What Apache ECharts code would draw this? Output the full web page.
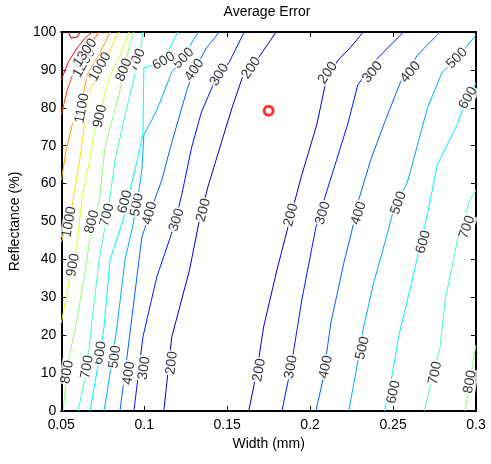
<!DOCTYPE html>
<html><head><meta charset="utf-8">
<script src="https://cdn.jsdelivr.net/npm/echarts@6/dist/echarts.min.js"></script>
<style>html,body{margin:0;padding:0;background:#fff}#c{width:491px;height:464px}</style>
</head><body><div id="c"></div>
<script>
// ---- data (x = width in mm, y = reflectance in %) ----
const c200a = [[0.1118,0],[0.1166,19.5],[0.1273,37.2],[0.1333,50.4],[0.1387,59.6],[0.1525,79.4],[0.1597,88.7],[0.1687,93.1],[0.1795,100]];
const c200b = [[0.163,0],[0.168,10.8],[0.172,22.2],[0.180,37.2],[0.189,52.5],[0.195,62.3],[0.204,75.5],[0.210,87.9],[0.217,92.6],[0.2245,96.0],[0.232,100]];
const c300a = [[0.0938,0],[0.0992,19.5],[0.1076,35.4],[0.1178,48.5],[0.1226,57.0],[0.1285,69.4],[0.1345,78.9],[0.1423,86.8],[0.1513,92.1],[0.1603,100]];
const c300b = [[0.183,0],[0.1885,11.6],[0.195,29.3],[0.2035,48.5],[0.2095,57.2],[0.2227,75.7],[0.2287,86.0],[0.2407,93.1],[0.2545,99.2],[0.2563,100]];
const c400a = [[0.0854,0],[0.0896,14.25],[0.0986,45.9],[0.1034,52.2],[0.1106,60.9],[0.1154,68.9],[0.1214,78.1],[0.1261,85.2],[0.1303,90.0],[0.1375,95.8],[0.1453,100]];
const c400b = [[0.2035,0],[0.2077,8.2],[0.2125,23.2],[0.2203,39.0],[0.2257,48.5],[0.2293,55.7],[0.2365,66.2],[0.2455,76.8],[0.2545,86.8],[0.2647,93.9],[0.2784,100]];
const c500a = [[0.0758,0],[0.0776,4.75],[0.0836,22.2],[0.0884,39.8],[0.0926,47.8],[0.0956,54.4],[0.0986,63.6],[0.0998,72.8],[0.1076,79.4],[0.1166,89.4],[0.1237,93.1],[0.1303,98.4],[0.1327,100]];
const c500b = [[0.2233,0],[0.2275,10.0],[0.2323,22.2],[0.2383,33.8],[0.2455,45.1],[0.2503,53.0],[0.2587,60.4],[0.2707,79.9],[0.2796,89.4],[0.2886,93.1],[0.3,99.2]];
const c600a = [[0.0674,0],[0.0734,15.3],[0.0758,22.2],[0.0794,39.8],[0.0878,51.2],[0.0896,55.2],[0.0944,63.6],[0.0992,72.8],[0.0998,90.5],[0.1058,91.3],[0.1118,92.3],[0.1183,98.4],[0.1202,100]];
const c600b = [[0.2449,0],[0.2497,10.0],[0.2533,19.5],[0.2605,32.7],[0.2695,49.6],[0.2725,55.7],[0.2766,64.9],[0.2886,75.5],[0.2922,79.9],[0.3,86.5]];
const c700a = [[0.0602,0],[0.0656,11.6],[0.0686,24.0],[0.0728,39.8],[0.0776,51.7],[0.0794,56.5],[0.0824,66.2],[0.0878,76.8],[0.0914,83.4],[0.0944,88.7],[0.0968,93.1],[0.0986,97.9],[0.0992,100]];
const c700b = [[0.2688,0],[0.2784,16.9],[0.2814,29.3],[0.2892,45.9],[0.2964,55.7],[0.3,58.3]];
const c800a = [[0.0512,0],[0.0536,11.6],[0.0596,24.5],[0.0650,38.5],[0.0686,49.6],[0.0728,54.9],[0.0764,69.7],[0.0794,74.7],[0.0848,83.4],[0.0878,89.7],[0.0908,95.8],[0.0938,100]];
const c800b = [[0.2934,0],[0.2994,16.1],[0.3,17.4]];
const c900a = [[0.05,23.2],[0.0554,35.4],[0.0596,44.3],[0.0626,56.5],[0.0668,65.4],[0.0698,73.4],[0.0734,78.1],[0.0758,82.6],[0.0788,87.9],[0.0848,93.1],[0.0908,100]];
const c1000a = [[0.05,44.6],[0.0548,49.9],[0.0566,54.4],[0.0614,67.0],[0.0644,76.8],[0.0674,84.7],[0.0734,90.0],[0.0794,95.3],[0.0848,100]];
const c1100a = [[0.05,60.9],[0.053,68.9],[0.0566,75.5],[0.0602,78.9],[0.0626,82.1],[0.0656,88.7],[0.0716,93.1],[0.0776,98.2],[0.0794,100]];
const c1200a = [[0.05,78.1],[0.0536,84.7],[0.0578,90.0],[0.0626,93.1],[0.0686,97.4],[0.0728,100]];
const c1300a = [[0.05,87.3],[0.0542,92.1],[0.0596,95.8],[0.0644,98.4],[0.0686,100]];
const c1400a = [[0.0542,100],[0.056,98.4],[0.0596,98.7],[0.0614,100]];

// contour level for each line
const contourLines = [
  [200, c200a], [200, c200b], [300, c300a], [300, c300b], [400, c400a], [400, c400b],
  [500, c500a], [500, c500b], [600, c600a], [600, c600b], [700, c700a], [700, c700b],
  [800, c800a], [800, c800b], [900, c900a], [1000, c1000a], [1100, c1100a],
  [1200, c1200a], [1300, c1300a], [1400, c1400a]
];

// contour labels: [x, y, level, angle]
const contourLabels = [
  [0.1693,10.8,200,80],[0.1885,51.7,200,75],[0.2107,89.2,200,55],
  [0.1885,11.6,300,80],[0.2077,52.2,300,73],[0.2377,89.4,300,50],
  [0.2095,11.6,400,78],[0.2293,52.2,400,72],[0.2605,89.4,400,50],
  [0.2317,16.6,500,77],[0.2533,54.9,500,70],[0.2886,93.1,500,45],
  [0.2503,5.0,600,78],[0.2683,44.6,600,75],[0.2952,82.6,600,60],
  [0.2754,10.0,700,78],[0.2946,48.5,700,70],
  [0.2964,7.7,800,80],
  [0.1166,12.7,200,83],[0.1357,53.0,200,75],[0.1645,90.5,200,55],
  [0.1,11.3,300,82],[0.1196,50.4,300,72],[0.1453,88.7,300,58],
  [0.0908,10.0,400,82],[0.1034,52.2,400,75],[0.1303,90.0,400,55],
  [0.0824,14.25,500,82],[0.0956,54.4,500,80],[0.1237,93.1,500,45],
  [0.0734,15.3,600,80],[0.0884,55.2,600,75],[0.1118,92.3,600,30],
  [0.0656,11.6,700,80],[0.0776,51.7,700,75],[0.0956,92.6,700,65],
  [0.0536,10.3,800,80],[0.0686,49.9,800,75],[0.0878,90.0,800,68],
  [0.0572,38.5,900,80],[0.0734,77.8,900,78],
  [0.0548,49.9,1000,80],[0.0734,90.8,1000,60],
  [0.0626,79.9,1100,80],[0.0638,91.8,1200,60],[0.0644,94.5,1300,55]
];

const markerPoint = [[0.175, 79.2]];

// ---- styling helpers ----
function jet(level) {
  const t = 0.075 + (level - 200) / 1200 * 0.875;
  const cl = v => Math.max(0, Math.min(1, v));
  const r = cl(1.5 - Math.abs(4 * t - 3));
  const g = cl(1.5 - Math.abs(4 * t - 2));
  const b = cl(1.5 - Math.abs(4 * t - 1));
  const h = v => Math.round(v * 255).toString(16).padStart(2, '0');
  return '#' + h(r) + h(g) + h(b);
}
const FONT = 'Liberation Sans, Arial, Helvetica, sans-serif';

const series = contourLines.map(([lvl, pts]) => ({
  type: 'line', data: pts, showSymbol: false, symbol: 'none', silent: true,
  lineStyle: { color: jet(lvl), width: 1 }, z: 2, clip: true, animation: false
}));
series.push({
  type: 'scatter', silent: true, z: 5, symbolSize: 0, animation: false,
  data: contourLabels.map(([x, y, lvl, ang]) => ({
    value: [x, y],
    label: { rotate: ang }
  })),
  label: {
    show: true, position: 'inside', color: '#000', fontSize: 14, fontFamily: FONT,
    backgroundColor: '#fff', padding: [0, 1],
    formatter: p => String(contourLabels[p.dataIndex][2])
  }
});
series.push({
  type: 'scatter', data: markerPoint, symbol: 'circle', symbolSize: 9, silent: true, z: 6,
  itemStyle: { color: '#fff', borderColor: '#ff0000', borderWidth: 3 }, animation: false
});

const axisCommon = {
  axisLine: { show: true, onZero: false, lineStyle: { color: '#000', width: 2 } },
  axisTick: { show: true, inside: true, length: 5, lineStyle: { color: '#000', width: 1 } },
  splitLine: { show: false }
};

const chart = echarts.init(document.getElementById('c'), null, { renderer: 'canvas' });
chart.setOption({
  animation: false,
  backgroundColor: '#fff',
  grid: { left: 59, right: 15, top: 32, bottom: 53 },
  graphic: [{
    type: 'text', x: 267, y: 12,
    style: { text: 'Average Error', align: 'center', verticalAlign: 'middle', fill: '#000', font: '14px ' + FONT }
  }],
  xAxis: [
    Object.assign({}, axisCommon, {
      type: 'value', min: 0.05, max: 0.3, interval: 0.05, position: 'bottom',
      name: 'Width (mm)', nameLocation: 'middle', nameGap: 25,
      nameTextStyle: { color: '#000', fontSize: 14, fontFamily: FONT },
      axisLabel: { color: '#000', fontSize: 14, fontFamily: FONT, margin: 7 }
    }),
    Object.assign({}, axisCommon, {
      type: 'value', min: 0.05, max: 0.3, interval: 0.05, position: 'top',
      axisLabel: { show: false }
    })
  ],
  yAxis: [
    Object.assign({}, axisCommon, {
      type: 'value', min: 0, max: 100, interval: 10, position: 'left',
      name: 'Reflectance (%)', nameLocation: 'middle', nameGap: 37,
      nameTextStyle: { color: '#000', fontSize: 14, fontFamily: FONT },
      axisLabel: { color: '#000', fontSize: 14, fontFamily: FONT, margin: 5 }
    }),
    Object.assign({}, axisCommon, {
      type: 'value', min: 0, max: 100, interval: 10, position: 'right',
      axisLabel: { show: false }
    })
  ],
  series: series
});
</script>
</body></html>
